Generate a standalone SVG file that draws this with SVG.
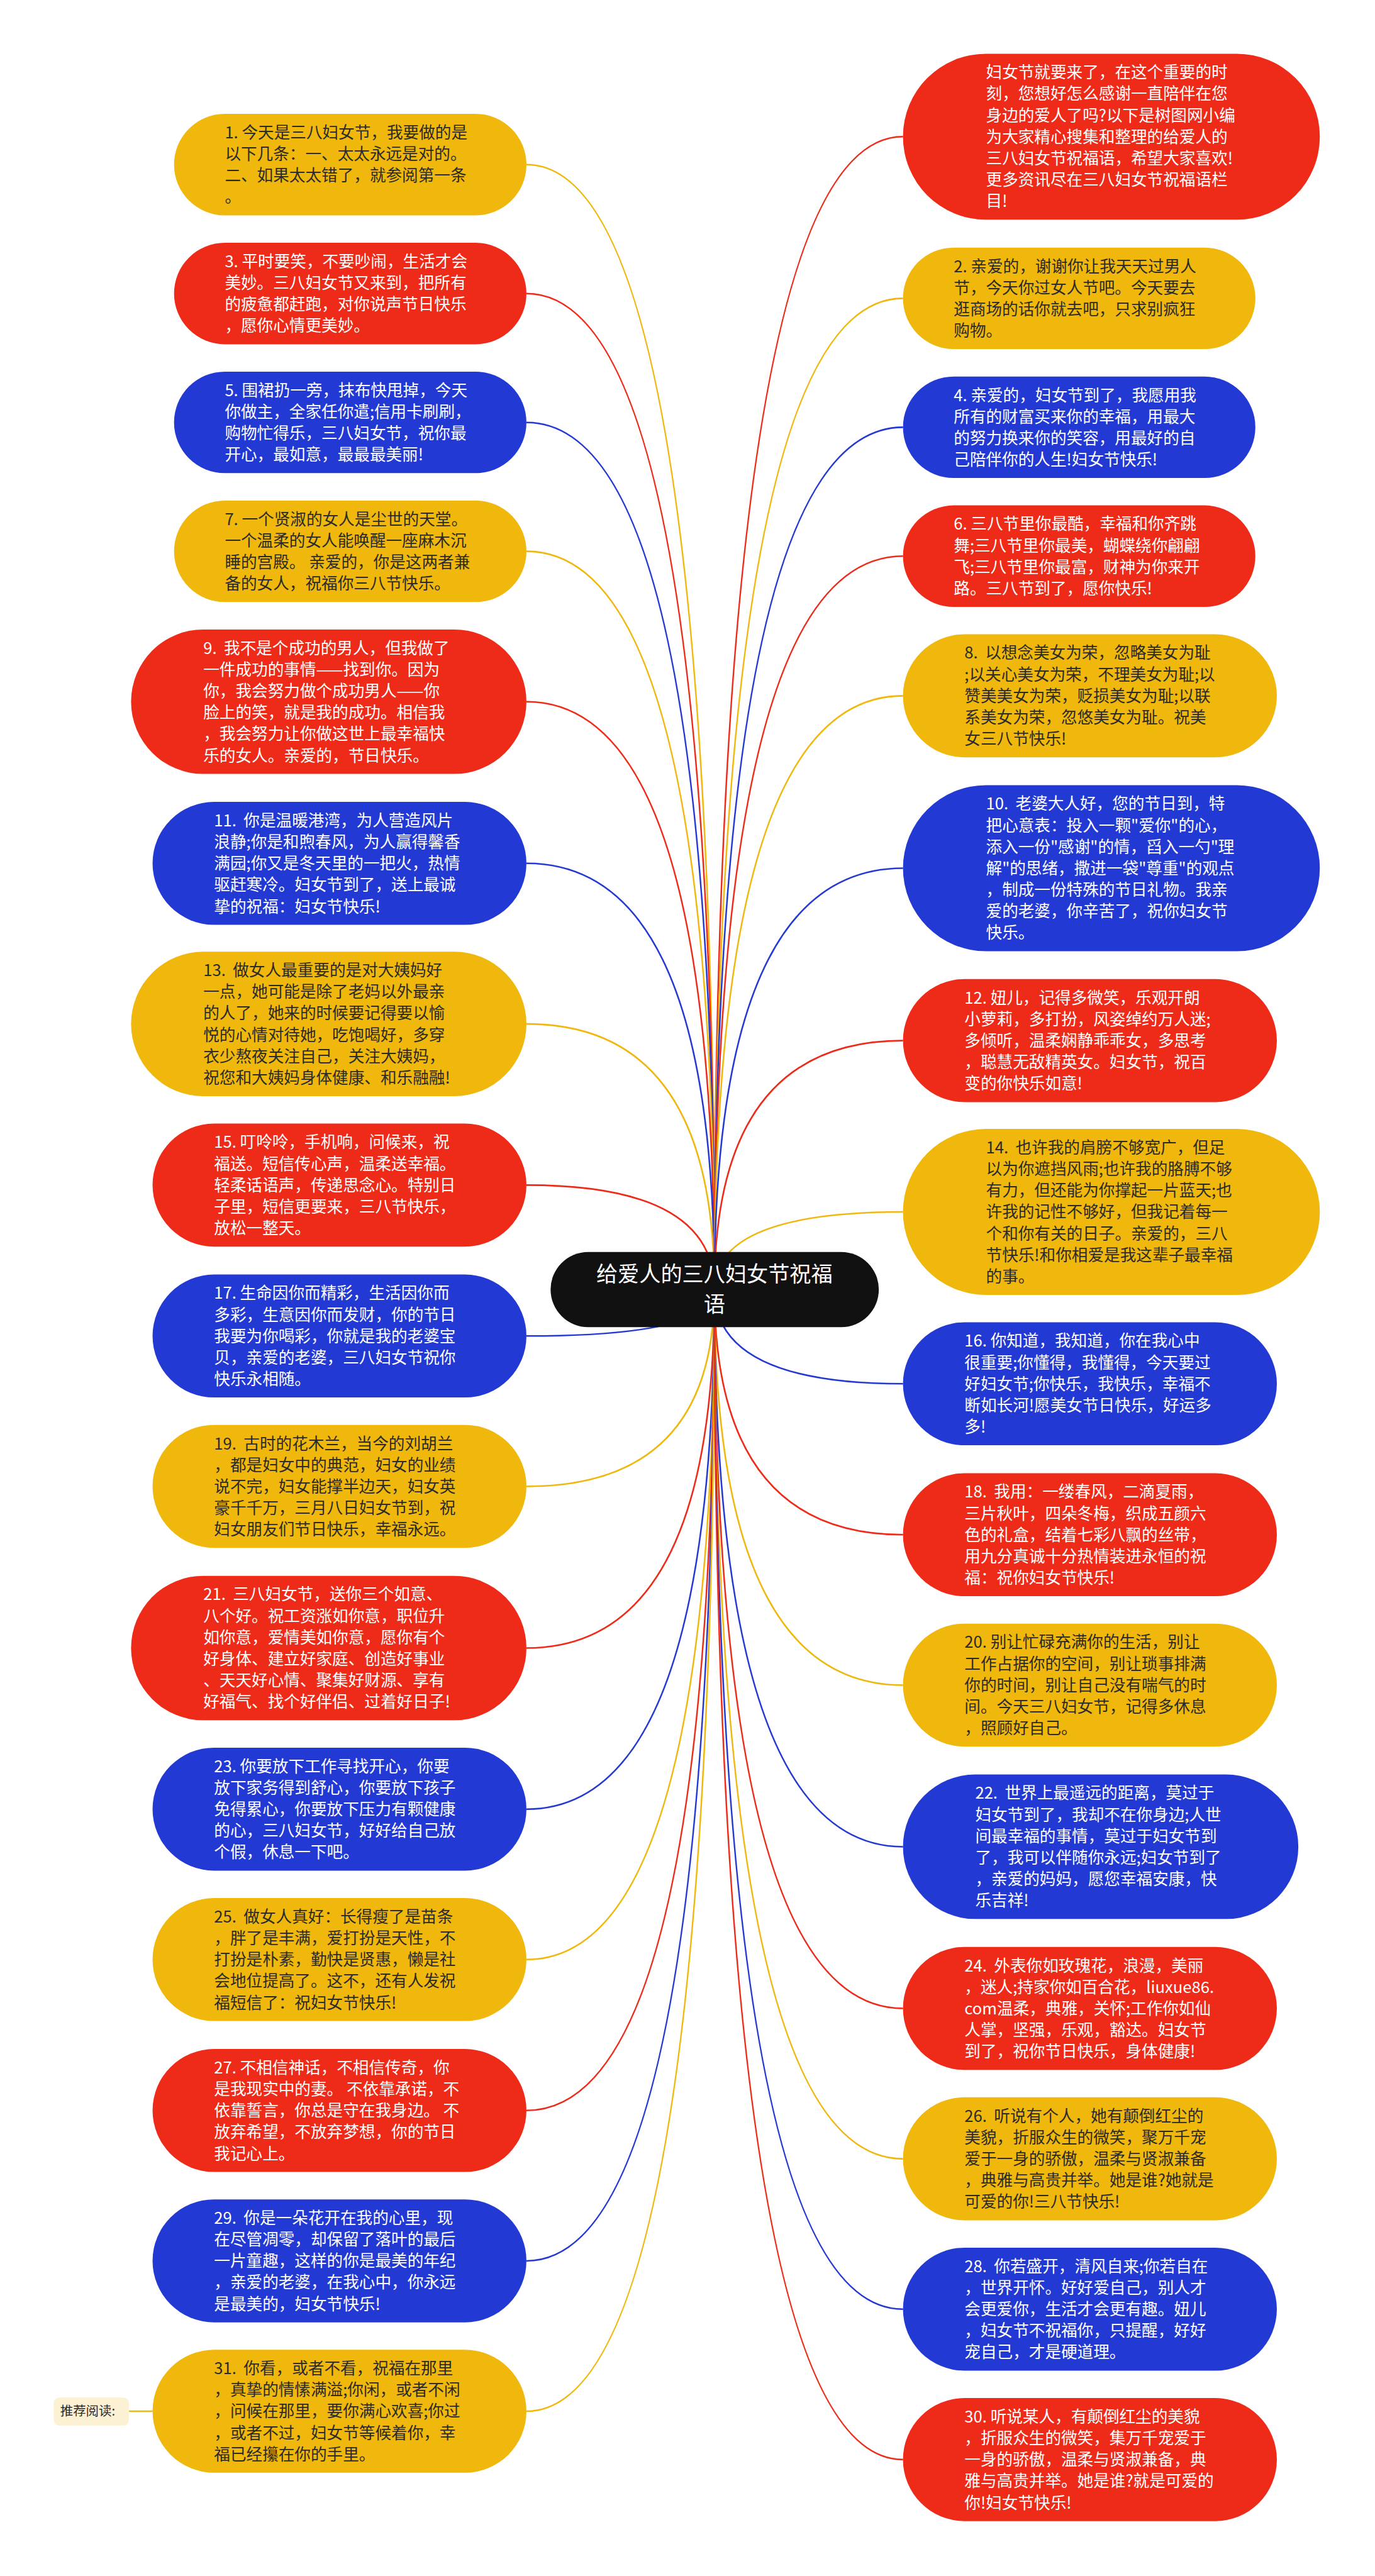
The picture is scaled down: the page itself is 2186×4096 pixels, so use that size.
<svg xmlns="http://www.w3.org/2000/svg" width="2186" height="4096" viewBox="0 0 2186 4096">
<style>
.ny{fill:#F0B70C}.nr{fill:#EE2A19}.nb{fill:#2339D3}
.t{font-family:"Noto Sans CJK SC","Noto Sans",sans-serif;font-size:30px;white-space:pre}
.td{fill:#2b2b2b}.tw{fill:#ffffff}
.c{fill:none;stroke-width:3}
.cy{stroke:#F0B70C}.cr{stroke:#EE2A19}.cb{stroke:#2339D3}
</style>
<rect width="2186" height="4096" fill="#ffffff"/>
<g transform="scale(0.854)">
<g id="connectors">
<path class="c cy" d="M1330 2401 Q1330 306.5 980 306.5"/>
<path class="c cr" d="M1330 2401 Q1330 546.5 980 546.5"/>
<path class="c cb" d="M1330 2401 Q1330 786.5 980 786.5"/>
<path class="c cy" d="M1330 2401 Q1330 1026.5 980 1026.5"/>
<path class="c cr" d="M1330 2401 Q1330 1306.5 980 1306.5"/>
<path class="c cb" d="M1330 2401 Q1330 1607.5 980 1607.5"/>
<path class="c cy" d="M1330 2401 Q1330 1906.5 980 1906.5"/>
<path class="c cr" d="M1330 2401 Q1330 2206.5 980 2206.5"/>
<path class="c cb" d="M1330 2401 Q1330 2487.5 980 2487.5"/>
<path class="c cy" d="M1330 2401 Q1330 2767.5 980 2767.5"/>
<path class="c cr" d="M1330 2401 Q1330 3068.5 980 3068.5"/>
<path class="c cb" d="M1330 2401 Q1330 3368.5 980 3368.5"/>
<path class="c cy" d="M1330 2401 Q1330 3648.5 980 3648.5"/>
<path class="c cr" d="M1330 2401 Q1330 3929.5 980 3929.5"/>
<path class="c cb" d="M1330 2401 Q1330 4209.5 980 4209.5"/>
<path class="c cy" d="M1330 2401 Q1330 4489.5 980 4489.5"/>
<path class="c cy" d="M284 4489.5 L240 4489.5"/>
<path class="c cr" d="M1330 2401 Q1330 254.5 1681 254.5"/>
<path class="c cy" d="M1330 2401 Q1330 555.5 1681 555.5"/>
<path class="c cb" d="M1330 2401 Q1330 795.5 1681 795.5"/>
<path class="c cr" d="M1330 2401 Q1330 1035.5 1681 1035.5"/>
<path class="c cy" d="M1330 2401 Q1330 1295.5 1681 1295.5"/>
<path class="c cb" d="M1330 2401 Q1330 1616.5 1681 1616.5"/>
<path class="c cr" d="M1330 2401 Q1330 1937.5 1681 1937.5"/>
<path class="c cy" d="M1330 2401 Q1330 2256.5 1681 2256.5"/>
<path class="c cb" d="M1330 2401 Q1330 2576.5 1681 2576.5"/>
<path class="c cr" d="M1330 2401 Q1330 2857.5 1681 2857.5"/>
<path class="c cy" d="M1330 2401 Q1330 3137.5 1681 3137.5"/>
<path class="c cb" d="M1330 2401 Q1330 3438.5 1681 3438.5"/>
<path class="c cr" d="M1330 2401 Q1330 3739.5 1681 3739.5"/>
<path class="c cy" d="M1330 2401 Q1330 4019.5 1681 4019.5"/>
<path class="c cb" d="M1330 2401 Q1330 4299.5 1681 4299.5"/>
<path class="c cr" d="M1330 2401 Q1330 4579.5 1681 4579.5"/>
</g>

<g id="root">
<rect x="1025" y="2331" width="611" height="140" rx="70" fill="#111111"/>
<text x="1330" y="2387" text-anchor="middle" font-family="Noto Sans CJK SC, Noto Sans, sans-serif" font-size="40" fill="#ffffff">给爱人的三八妇女节祝福</text>
<text x="1330" y="2443" text-anchor="middle" font-family="Noto Sans CJK SC, Noto Sans, sans-serif" font-size="40" fill="#ffffff">语</text>
</g>

<g id="n1"><rect class="ny" x="324" y="212" width="656" height="189" rx="94.5"/>
<text class="t td" x="418.5" y="257.5"><tspan x="418.5">1. 今天是三八妇女节，我要做的是</tspan><tspan x="418.5" dy="40">以下几条：一、太太永远是对的。</tspan><tspan x="418.5" dy="40">二、如果太太错了，就参阅第一条</tspan><tspan x="418.5" dy="40">。</tspan></text></g>

<g id="n3"><rect class="nr" x="324" y="452" width="656" height="189" rx="94.5"/>
<text class="t tw" x="418.5" y="497.5"><tspan x="418.5">3. 平时要笑，不要吵闹，生活才会</tspan><tspan x="418.5" dy="40">美妙。三八妇女节又来到，把所有</tspan><tspan x="418.5" dy="40">的疲惫都赶跑，对你说声节日快乐</tspan><tspan x="418.5" dy="40">，愿你心情更美妙。</tspan></text></g>

<g id="n5"><rect class="nb" x="324" y="692" width="656" height="189" rx="94.5"/>
<text class="t tw" x="418.5" y="737.5"><tspan x="418.5">5. 围裙扔一旁，抹布快甩掉，今天</tspan><tspan x="418.5" dy="40">你做主，全家任你遣;信用卡刷刷，</tspan><tspan x="418.5" dy="40">购物忙得乐，三八妇女节，祝你最</tspan><tspan x="418.5" dy="40">开心，最如意，最最最美丽!</tspan></text></g>

<g id="n7"><rect class="ny" x="324" y="932" width="656" height="189" rx="94.5"/>
<text class="t td" x="418.5" y="977.5"><tspan x="418.5">7. 一个贤淑的女人是尘世的天堂。</tspan><tspan x="418.5" dy="40">一个温柔的女人能唤醒一座麻木沉</tspan><tspan x="418.5" dy="40">睡的宫殿。 亲爱的，你是这两者兼</tspan><tspan x="418.5" dy="40">备的女人，祝福你三八节快乐。</tspan></text></g>

<g id="n9"><rect class="nr" x="244" y="1172" width="736" height="269" rx="134.5"/>
<text class="t tw" x="378.5" y="1217.5"><tspan x="378.5">9.  我不是个成功的男人，但我做了</tspan><tspan x="378.5" dy="40">一件成功的事情——找到你。因为</tspan><tspan x="378.5" dy="40">你，我会努力做个成功男人——你</tspan><tspan x="378.5" dy="40">脸上的笑，就是我的成功。相信我</tspan><tspan x="378.5" dy="40">，我会努力让你做这世上最幸福快</tspan><tspan x="378.5" dy="40">乐的女人。亲爱的，节日快乐。</tspan></text></g>

<g id="n11"><rect class="nb" x="284" y="1493" width="696" height="229" rx="114.5"/>
<text class="t tw" x="398.5" y="1538.5"><tspan x="398.5">11.  你是温暖港湾，为人营造风片</tspan><tspan x="398.5" dy="40">浪静;你是和煦春风，为人赢得馨香</tspan><tspan x="398.5" dy="40">满园;你又是冬天里的一把火，热情</tspan><tspan x="398.5" dy="40">驱赶寒冷。妇女节到了，送上最诚</tspan><tspan x="398.5" dy="40">挚的祝福：妇女节快乐!</tspan></text></g>

<g id="n13"><rect class="ny" x="244" y="1772" width="736" height="269" rx="134.5"/>
<text class="t td" x="378.5" y="1817.5"><tspan x="378.5">13.  做女人最重要的是对大姨妈好</tspan><tspan x="378.5" dy="40">一点，她可能是除了老妈以外最亲</tspan><tspan x="378.5" dy="40">的人了，她来的时候要记得要以愉</tspan><tspan x="378.5" dy="40">悦的心情对待她，吃饱喝好，多穿</tspan><tspan x="378.5" dy="40">衣少熬夜关注自己，关注大姨妈，</tspan><tspan x="378.5" dy="40">祝您和大姨妈身体健康、和乐融融!</tspan></text></g>

<g id="n15"><rect class="nr" x="284" y="2092" width="696" height="229" rx="114.5"/>
<text class="t tw" x="398.5" y="2137.5"><tspan x="398.5">15. 叮呤呤，手机响，问候来，祝</tspan><tspan x="398.5" dy="40">福送。短信传心声，温柔送幸福。</tspan><tspan x="398.5" dy="40">轻柔话语声，传递思念心。特别日</tspan><tspan x="398.5" dy="40">子里，短信更要来，三八节快乐，</tspan><tspan x="398.5" dy="40">放松一整天。</tspan></text></g>

<g id="n17"><rect class="nb" x="284" y="2373" width="696" height="229" rx="114.5"/>
<text class="t tw" x="398.5" y="2418.5"><tspan x="398.5">17. 生命因你而精彩，生活因你而</tspan><tspan x="398.5" dy="40">多彩，生意因你而发财，你的节日</tspan><tspan x="398.5" dy="40">我要为你喝彩，你就是我的老婆宝</tspan><tspan x="398.5" dy="40">贝，亲爱的老婆，三八妇女节祝你</tspan><tspan x="398.5" dy="40">快乐永相随。</tspan></text></g>

<g id="n19"><rect class="ny" x="284" y="2653" width="696" height="229" rx="114.5"/>
<text class="t td" x="398.5" y="2698.5"><tspan x="398.5">19.  古时的花木兰，当今的刘胡兰</tspan><tspan x="398.5" dy="40">，都是妇女中的典范，妇女的业绩</tspan><tspan x="398.5" dy="40">说不完，妇女能撑半边天，妇女英</tspan><tspan x="398.5" dy="40">豪千千万，三月八日妇女节到，祝</tspan><tspan x="398.5" dy="40">妇女朋友们节日快乐，幸福永远。</tspan></text></g>

<g id="n21"><rect class="nr" x="244" y="2934" width="736" height="269" rx="134.5"/>
<text class="t tw" x="378.5" y="2979.5"><tspan x="378.5">21.  三八妇女节，送你三个如意、</tspan><tspan x="378.5" dy="40">八个好。祝工资涨如你意，职位升</tspan><tspan x="378.5" dy="40">如你意，爱情美如你意，愿你有个</tspan><tspan x="378.5" dy="40">好身体、建立好家庭、创造好事业</tspan><tspan x="378.5" dy="40">、天天好心情、聚集好财源、享有</tspan><tspan x="378.5" dy="40">好福气、找个好伴侣、过着好日子!</tspan></text></g>

<g id="n23"><rect class="nb" x="284" y="3254" width="696" height="229" rx="114.5"/>
<text class="t tw" x="398.5" y="3299.5"><tspan x="398.5">23. 你要放下工作寻找开心，你要</tspan><tspan x="398.5" dy="40">放下家务得到舒心，你要放下孩子</tspan><tspan x="398.5" dy="40">免得累心，你要放下压力有颗健康</tspan><tspan x="398.5" dy="40">的心，三八妇女节，好好给自己放</tspan><tspan x="398.5" dy="40">个假，休息一下吧。</tspan></text></g>

<g id="n25"><rect class="ny" x="284" y="3534" width="696" height="229" rx="114.5"/>
<text class="t td" x="398.5" y="3579.5"><tspan x="398.5">25.  做女人真好：长得瘦了是苗条</tspan><tspan x="398.5" dy="40">，胖了是丰满，爱打扮是天性，不</tspan><tspan x="398.5" dy="40">打扮是朴素，勤快是贤惠，懒是社</tspan><tspan x="398.5" dy="40">会地位提高了。这不，还有人发祝</tspan><tspan x="398.5" dy="40">福短信了：祝妇女节快乐!</tspan></text></g>

<g id="n27"><rect class="nr" x="284" y="3815" width="696" height="229" rx="114.5"/>
<text class="t tw" x="398.5" y="3860.5"><tspan x="398.5">27. 不相信神话，不相信传奇，你</tspan><tspan x="398.5" dy="40">是我现实中的妻。 不依靠承诺，不</tspan><tspan x="398.5" dy="40">依靠誓言，你总是守在我身边。 不</tspan><tspan x="398.5" dy="40">放弃希望，不放弃梦想，你的节日</tspan><tspan x="398.5" dy="40">我记心上。</tspan></text></g>

<g id="n29"><rect class="nb" x="284" y="4095" width="696" height="229" rx="114.5"/>
<text class="t tw" x="398.5" y="4140.5"><tspan x="398.5">29.  你是一朵花开在我的心里，现</tspan><tspan x="398.5" dy="40">在尽管凋零，却保留了落叶的最后</tspan><tspan x="398.5" dy="40">一片童趣，这样的你是最美的年纪</tspan><tspan x="398.5" dy="40">，亲爱的老婆，在我心中，你永远</tspan><tspan x="398.5" dy="40">是最美的，妇女节快乐!</tspan></text></g>

<g id="n31"><rect class="ny" x="284" y="4375" width="696" height="229" rx="114.5"/>
<text class="t td" x="398.5" y="4420.5"><tspan x="398.5">31.  你看，或者不看，祝福在那里</tspan><tspan x="398.5" dy="40">，真挚的情愫满溢;你闲，或者不闲</tspan><tspan x="398.5" dy="40">，问候在那里，要你满心欢喜;你过</tspan><tspan x="398.5" dy="40">，或者不过，妇女节等候着你，幸</tspan><tspan x="398.5" dy="40">福已经攥在你的手里。</tspan></text></g>

<g id="recommend"><rect x="100" y="4464" width="140" height="52" rx="10" fill="#FDF1D3"/>
<text x="112" y="4498" font-family="Noto Sans CJK SC, Noto Sans, sans-serif" font-size="24" fill="#2b2b2b">推荐阅读:</text></g>

<g id="intro"><rect class="nr" x="1681" y="100" width="776" height="309" rx="154.5"/>
<text class="t tw" x="1835.5" y="145.5"><tspan x="1835.5">妇女节就要来了，在这个重要的时</tspan><tspan x="1835.5" dy="40">刻，您想好怎么感谢一直陪伴在您</tspan><tspan x="1835.5" dy="40">身边的爱人了吗?以下是树图网小编</tspan><tspan x="1835.5" dy="40">为大家精心搜集和整理的给爱人的</tspan><tspan x="1835.5" dy="40">三八妇女节祝福语，希望大家喜欢!</tspan><tspan x="1835.5" dy="40">更多资讯尽在三八妇女节祝福语栏</tspan><tspan x="1835.5" dy="40">目!</tspan></text></g>

<g id="n2"><rect class="ny" x="1681" y="461" width="656" height="189" rx="94.5"/>
<text class="t td" x="1775.5" y="506.5"><tspan x="1775.5">2. 亲爱的，谢谢你让我天天过男人</tspan><tspan x="1775.5" dy="40">节，今天你过女人节吧。今天要去</tspan><tspan x="1775.5" dy="40">逛商场的话你就去吧，只求别疯狂</tspan><tspan x="1775.5" dy="40">购物。</tspan></text></g>

<g id="n4"><rect class="nb" x="1681" y="701" width="656" height="189" rx="94.5"/>
<text class="t tw" x="1775.5" y="746.5"><tspan x="1775.5">4. 亲爱的，妇女节到了，我愿用我</tspan><tspan x="1775.5" dy="40">所有的财富买来你的幸福，用最大</tspan><tspan x="1775.5" dy="40">的努力换来你的笑容，用最好的自</tspan><tspan x="1775.5" dy="40">己陪伴你的人生!妇女节快乐!</tspan></text></g>

<g id="n6"><rect class="nr" x="1681" y="941" width="656" height="189" rx="94.5"/>
<text class="t tw" x="1775.5" y="986.5"><tspan x="1775.5">6. 三八节里你最酷，幸福和你齐跳</tspan><tspan x="1775.5" dy="40">舞;三八节里你最美，蝴蝶绕你翩翩</tspan><tspan x="1775.5" dy="40">飞;三八节里你最富，财神为你来开</tspan><tspan x="1775.5" dy="40">路。三八节到了，愿你快乐!</tspan></text></g>

<g id="n8"><rect class="ny" x="1681" y="1181" width="696" height="229" rx="114.5"/>
<text class="t td" x="1795.5" y="1226.5"><tspan x="1795.5">8.  以想念美女为荣，忽略美女为耻</tspan><tspan x="1795.5" dy="40">;以关心美女为荣，不理美女为耻;以</tspan><tspan x="1795.5" dy="40">赞美美女为荣，贬损美女为耻;以联</tspan><tspan x="1795.5" dy="40">系美女为荣，忽悠美女为耻。祝美</tspan><tspan x="1795.5" dy="40">女三八节快乐!</tspan></text></g>

<g id="n10"><rect class="nb" x="1681" y="1462" width="776" height="309" rx="154.5"/>
<text class="t tw" x="1835.5" y="1507.5"><tspan x="1835.5">10.  老婆大人好，您的节日到，特</tspan><tspan x="1835.5" dy="40">把心意表：投入一颗"爱你"的心，</tspan><tspan x="1835.5" dy="40">添入一份"感谢"的情，舀入一勺"理</tspan><tspan x="1835.5" dy="40">解"的思绪，撒进一袋"尊重"的观点</tspan><tspan x="1835.5" dy="40">，制成一份特殊的节日礼物。我亲</tspan><tspan x="1835.5" dy="40">爱的老婆，你辛苦了，祝你妇女节</tspan><tspan x="1835.5" dy="40">快乐。</tspan></text></g>

<g id="n12"><rect class="nr" x="1681" y="1823" width="696" height="229" rx="114.5"/>
<text class="t tw" x="1795.5" y="1868.5"><tspan x="1795.5">12. 妞儿，记得多微笑，乐观开朗</tspan><tspan x="1795.5" dy="40">小萝莉，多打扮，风姿绰约万人迷;</tspan><tspan x="1795.5" dy="40">多倾听，温柔娴静乖乖女，多思考</tspan><tspan x="1795.5" dy="40">，聪慧无敌精英女。妇女节，祝百</tspan><tspan x="1795.5" dy="40">变的你快乐如意!</tspan></text></g>

<g id="n14"><rect class="ny" x="1681" y="2102" width="776" height="309" rx="154.5"/>
<text class="t td" x="1835.5" y="2147.5"><tspan x="1835.5">14.  也许我的肩膀不够宽广，但足</tspan><tspan x="1835.5" dy="40">以为你遮挡风雨;也许我的胳膊不够</tspan><tspan x="1835.5" dy="40">有力，但还能为你撑起一片蓝天;也</tspan><tspan x="1835.5" dy="40">许我的记性不够好，但我记着每一</tspan><tspan x="1835.5" dy="40">个和你有关的日子。亲爱的，三八</tspan><tspan x="1835.5" dy="40">节快乐!和你相爱是我这辈子最幸福</tspan><tspan x="1835.5" dy="40">的事。</tspan></text></g>

<g id="n16"><rect class="nb" x="1681" y="2462" width="696" height="229" rx="114.5"/>
<text class="t tw" x="1795.5" y="2507.5"><tspan x="1795.5">16. 你知道，我知道，你在我心中</tspan><tspan x="1795.5" dy="40">很重要;你懂得，我懂得，今天要过</tspan><tspan x="1795.5" dy="40">好妇女节;你快乐，我快乐，幸福不</tspan><tspan x="1795.5" dy="40">断如长河!愿美女节日快乐，好运多</tspan><tspan x="1795.5" dy="40">多!</tspan></text></g>

<g id="n18"><rect class="nr" x="1681" y="2743" width="696" height="229" rx="114.5"/>
<text class="t tw" x="1795.5" y="2788.5"><tspan x="1795.5">18.  我用：一缕春风，二滴夏雨，</tspan><tspan x="1795.5" dy="40">三片秋叶，四朵冬梅，织成五颜六</tspan><tspan x="1795.5" dy="40">色的礼盒，结着七彩八飘的丝带，</tspan><tspan x="1795.5" dy="40">用九分真诚十分热情装进永恒的祝</tspan><tspan x="1795.5" dy="40">福：祝你妇女节快乐!</tspan></text></g>

<g id="n20"><rect class="ny" x="1681" y="3023" width="696" height="229" rx="114.5"/>
<text class="t td" x="1795.5" y="3068.5"><tspan x="1795.5">20. 别让忙碌充满你的生活，别让</tspan><tspan x="1795.5" dy="40">工作占据你的空间，别让琐事排满</tspan><tspan x="1795.5" dy="40">你的时间，别让自己没有喘气的时</tspan><tspan x="1795.5" dy="40">间。今天三八妇女节，记得多休息</tspan><tspan x="1795.5" dy="40">，照顾好自己。</tspan></text></g>

<g id="n22"><rect class="nb" x="1681" y="3304" width="736" height="269" rx="134.5"/>
<text class="t tw" x="1815.5" y="3349.5"><tspan x="1815.5">22.  世界上最遥远的距离，莫过于</tspan><tspan x="1815.5" dy="40">妇女节到了，我却不在你身边;人世</tspan><tspan x="1815.5" dy="40">间最幸福的事情，莫过于妇女节到</tspan><tspan x="1815.5" dy="40">了，我可以伴随你永远;妇女节到了</tspan><tspan x="1815.5" dy="40">，亲爱的妈妈，愿您幸福安康，快</tspan><tspan x="1815.5" dy="40">乐吉祥!</tspan></text></g>

<g id="n24"><rect class="nr" x="1681" y="3625" width="696" height="229" rx="114.5"/>
<text class="t tw" x="1795.5" y="3670.5"><tspan x="1795.5">24.  外表你如玫瑰花，浪漫，美丽</tspan><tspan x="1795.5" dy="40">，迷人;持家你如百合花，liuxue86.</tspan><tspan x="1795.5" dy="40">com温柔，典雅，关怀;工作你如仙</tspan><tspan x="1795.5" dy="40">人掌，坚强，乐观，豁达。妇女节</tspan><tspan x="1795.5" dy="40">到了，祝你节日快乐，身体健康!</tspan></text></g>

<g id="n26"><rect class="ny" x="1681" y="3905" width="696" height="229" rx="114.5"/>
<text class="t td" x="1795.5" y="3950.5"><tspan x="1795.5">26.  听说有个人，她有颠倒红尘的</tspan><tspan x="1795.5" dy="40">美貌，折服众生的微笑，聚万千宠</tspan><tspan x="1795.5" dy="40">爱于一身的骄傲，温柔与贤淑兼备</tspan><tspan x="1795.5" dy="40">，典雅与高贵并举。她是谁?她就是</tspan><tspan x="1795.5" dy="40">可爱的你!三八节快乐!</tspan></text></g>

<g id="n28"><rect class="nb" x="1681" y="4185" width="696" height="229" rx="114.5"/>
<text class="t tw" x="1795.5" y="4230.5"><tspan x="1795.5">28.  你若盛开，清风自来;你若自在</tspan><tspan x="1795.5" dy="40">，世界开怀。好好爱自己，别人才</tspan><tspan x="1795.5" dy="40">会更爱你，生活才会更有趣。妞儿</tspan><tspan x="1795.5" dy="40">，妇女节不祝福你，只提醒，好好</tspan><tspan x="1795.5" dy="40">宠自己，才是硬道理。</tspan></text></g>

<g id="n30"><rect class="nr" x="1681" y="4465" width="696" height="229" rx="114.5"/>
<text class="t tw" x="1795.5" y="4510.5"><tspan x="1795.5">30. 听说某人，有颠倒红尘的美貌</tspan><tspan x="1795.5" dy="40">，折服众生的微笑，集万千宠爱于</tspan><tspan x="1795.5" dy="40">一身的骄傲，温柔与贤淑兼备，典</tspan><tspan x="1795.5" dy="40">雅与高贵并举。她是谁?就是可爱的</tspan><tspan x="1795.5" dy="40">你!妇女节快乐!</tspan></text></g>
</g>
</svg>
